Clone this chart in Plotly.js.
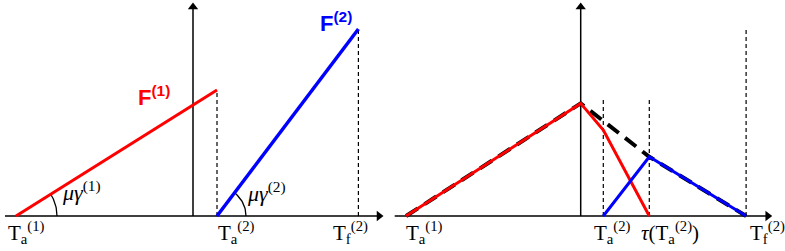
<!DOCTYPE html>
<html><head><meta charset="utf-8">
<script src="https://cdn.plot.ly/plotly-3.0.1.min.js"></script>
<style>html,body{margin:0;padding:0;background:#fff}#c{width:785px;height:251px}</style>
</head><body><div id="c"></div>
<script>
// ---- Left panel data ----
const L_redX = [-8.85, 1.2];
const L_redY = [0, 6.3];
const L_blueX = [1.2, 8.27];
const L_blueY = [0, 9.35];
const L_labelX = [-9.3, 1.2, 6.95];
const L_tickLabels = ["T<sub>a</sub><sup>(1)</sup>", "T<sub>a</sub><sup>(2)</sup>", "T<sub>f</sub><sup>(2)</sup>"];
// ---- Right panel data ----
const R_redX = [-8.73, 0, 1.13, 3.43];
const R_redY = [0, 5.63, 4.3, 0];
const R_sumX = [-8.73, 0, 3.43, 8.27];
const R_sumY = [0, 5.63, 2.96, 0];
const R_blueX = [1.13, 3.43, 8.27];
const R_blueY = [0, 2.96, 0];
const R_guideX = [1.13, 3.43, 8.27];
const R_guideTop = [5.85, 5.85, 9.4];
const R_labelX = [-8.78, 0.62, 2.97, 8.4];
const R_tickLabels = ["T<sub>a</sub><sup>(1)</sup>", "T<sub>a</sub><sup>(2)</sup>", "<i>τ</i>(T<sub>a</sub><sup>(2)</sup>)", "T<sub>f</sub><sup>(2)</sup>"];
// ---- axes extents ----
const L_axisX = [-9.4, 9.3];
const R_axisX = [-9.3, 9.35];
const axisTop = 10.45;

const serif = "Liberation Serif";
const traces = [];
function line(x, y, color, width, dash, xa, ya) {
  traces.push({x, y, mode: 'lines', line: {color, width, dash: dash || 'solid'}, xaxis: xa, yaxis: ya, hoverinfo: 'skip'});
}
function axes(ax, xa, ya) {
  line(ax, [0, 0], 'black', 1.5, 'solid', xa, ya);
  line([0, 0], [0, axisTop], 'black', 1.5, 'solid', xa, ya);
  traces.push({x: [ax[1]], y: [0], mode: 'markers', marker: {symbol: 'triangle-right', size: 9, color: 'black'}, xaxis: xa, yaxis: ya, hoverinfo: 'skip'});
  traces.push({x: [0], y: [axisTop], mode: 'markers', marker: {symbol: 'triangle-up', size: 9, color: 'black'}, xaxis: xa, yaxis: ya, hoverinfo: 'skip'});
}
axes(L_axisX, 'x', 'y');
axes(R_axisX, 'x2', 'y2');
// guides left
line([L_redX[1], L_redX[1]], [0, L_redY[1]], 'black', 1.2, '4px,3px', 'x', 'y');
line([L_blueX[1], L_blueX[1]], [0, L_blueY[1]], 'black', 1.2, '4px,3px', 'x', 'y');
// angle arcs
function arc(cx, slopeX, slopeY, r, xa, ya) {
  const th = Math.atan2(slopeY, slopeX);
  const xs = [], ys = [];
  for (let i = 0; i <= 20; i++) { const a = th * i / 20; xs.push(cx + r * Math.cos(a)); ys.push(r * Math.sin(a)); }
  line(xs, ys, 'black', 1.3, 'solid', xa, ya);
}
arc(L_redX[0], L_redX[1] - L_redX[0], L_redY[1] - L_redY[0], 2.05, 'x', 'y');
arc(L_blueX[0], L_blueX[1] - L_blueX[0], L_blueY[1] - L_blueY[0], 1.45, 'x', 'y');
line(L_redX, L_redY, '#ff0000', 3, 'solid', 'x', 'y');
line(L_blueX, L_blueY, '#0000ff', 3.5, 'solid', 'x', 'y');
// guides right
R_guideX.forEach((gx, i) => line([gx, gx], [0, R_guideTop[i]], 'black', 1.2, '4px,3px', 'x2', 'y2'));
line(R_sumX, R_sumY, 'black', 4, '14px,8px', 'x2', 'y2');
line(R_redX, R_redY, '#ff0000', 3, 'solid', 'x2', 'y2');
line(R_blueX, R_blueY, '#0000ff', 3, 'solid', 'x2', 'y2');

const ann = [];
function label(x, y, text, xr, yr, opts) {
  ann.push(Object.assign({x, y, text, xref: xr, yref: yr, showarrow: false, xanchor: 'left', yanchor: 'top',
    font: {family: serif, size: 21, color: 'black'}, borderpad: 0}, opts || {}));
}
L_labelX.forEach((t, i) => label(t, -0.05, L_tickLabels[i], 'x', 'y'));
R_labelX.forEach((t, i) => label(t, -0.05, R_tickLabels[i], 'x2', 'y2'));
label(-6.6, 1.25, "<i>μγ</i><sup>(1)</sup>", 'x', 'y', {yanchor: 'middle', font: {family: serif, size: 22, color: 'black'}});
label(2.65, 1.2, "<i>μγ</i><sup>(2)</sup>", 'x', 'y', {yanchor: 'middle', font: {family: serif, size: 22, color: 'black'}});
label(-2.8, 6.75, "<b>F<sup>(1)</sup></b>", 'x', 'y', {font: {family: 'Liberation Sans', size: 22, color: '#ff0000'}});
label(6.3, 10.45, "<b>F<sup>(2)</sup></b>", 'x', 'y', {font: {family: 'Liberation Sans', size: 22, color: '#0000ff'}});

const layout = {
  width: 785, height: 251, margin: {l: 0, r: 0, t: 0, b: 0},
  paper_bgcolor: 'white', plot_bgcolor: 'white', showlegend: false,
  xaxis: {domain: [0, 390/785], range: [-9.65, 9.85], visible: false, fixedrange: true},
  yaxis: {domain: [0, 1], range: [-1.75, 10.8], visible: false, fixedrange: true},
  xaxis2: {domain: [390/785, 1], range: [-9.535, 10.215], visible: false, fixedrange: true},
  yaxis2: {domain: [0, 1], range: [-1.75, 10.8], visible: false, fixedrange: true, anchor: 'x2'},
  annotations: ann
};
Plotly.newPlot('c', traces, layout, {staticPlot: true, displayModeBar: false});
</script></body></html>
